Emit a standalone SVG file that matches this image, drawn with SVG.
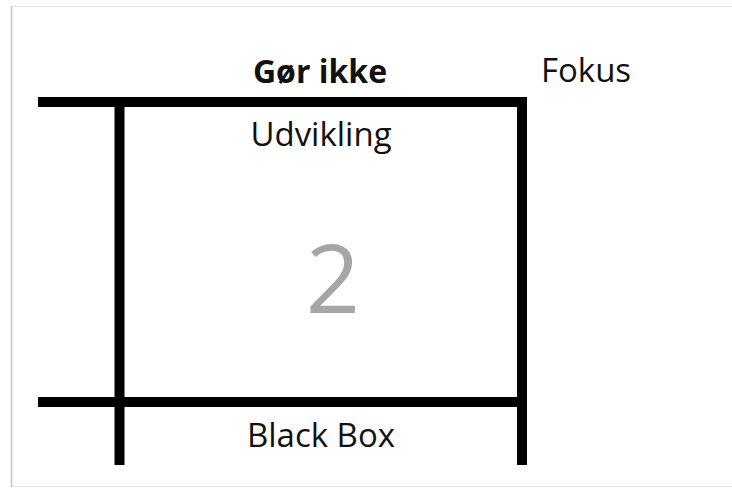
<svg xmlns="http://www.w3.org/2000/svg" width="732" height="489" viewBox="0 0 732 489">
<style>
.ln{stroke:#000;stroke-width:10;fill:none}
.t{font-family:"Open Sans","Noto Sans",sans-serif;fill:#111;text-anchor:middle}
</style>
<rect x="0" y="0" width="732" height="489" fill="#fff"/>
<rect x="11.5" y="6.5" width="730" height="480" fill="#fff" stroke="#e6e6e6" stroke-width="1"/>
<line x1="11.5" y1="6" x2="11.5" y2="487" stroke="#c4c4c4" stroke-width="1.5"/>
<g id="connectors">
<line class="ln" x1="38" y1="102" x2="527" y2="102"/>
<line class="ln" x1="38" y1="402" x2="522" y2="402"/>
<line class="ln" x1="119.5" y1="97" x2="119.5" y2="465"/>
<line class="ln" x1="522" y1="97" x2="522" y2="465"/>
</g>
<g id="gor-ikke"><text class="t" x="320" y="83" font-size="32" font-weight="bold">Gør ikke</text></g>
<g id="fokus"><text class="t" x="586" y="82" font-size="33">Fokus</text></g>
<g id="udvikling"><text class="t" x="321" y="146" font-size="33">Udvikling</text></g>
<g id="two"><text class="t" x="333" y="313" font-size="95" style="fill:#a6a6a6">2</text></g>
<g id="black-box"><text class="t" x="321" y="447" font-size="33">Black Box</text></g>
</svg>
